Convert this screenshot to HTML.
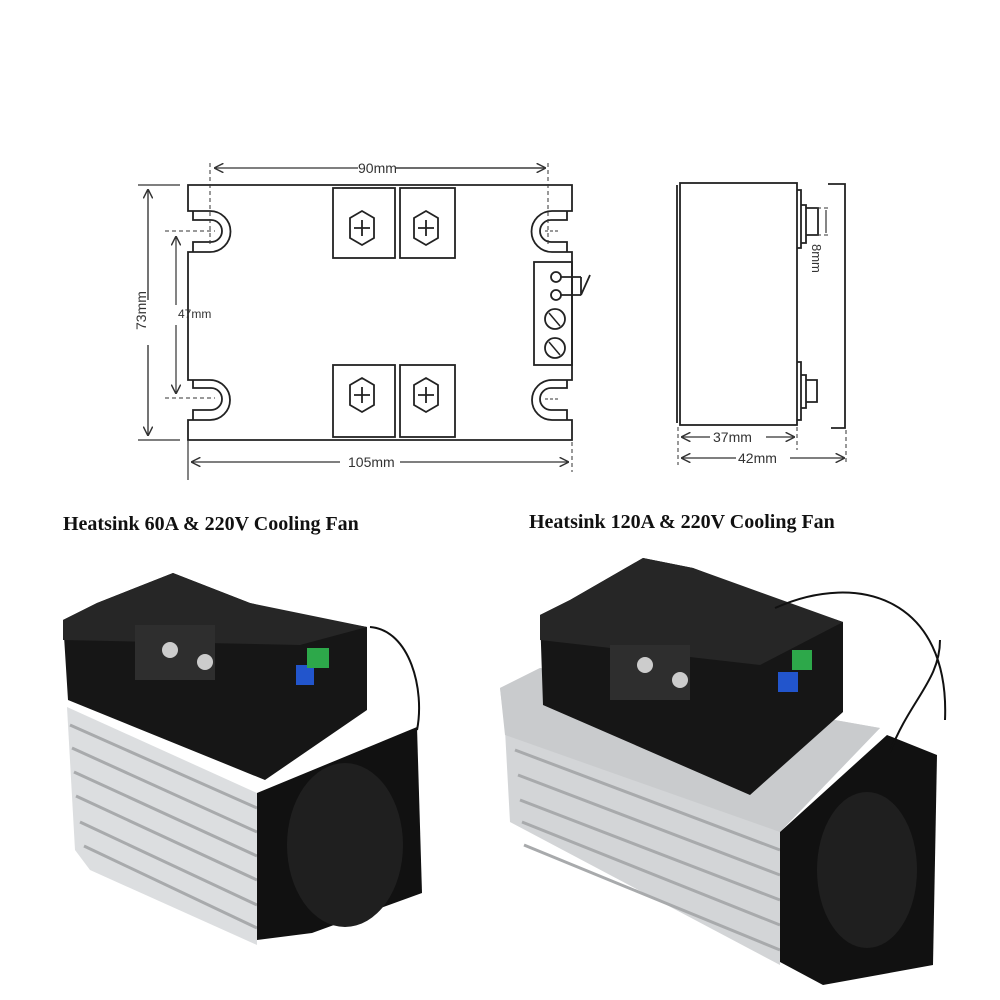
<!DOCTYPE html>
<html><head><meta charset="utf-8"><style>
html,body{margin:0;padding:0;background:#fff;width:1000px;height:1000px;overflow:hidden}
</style></head><body>
<svg width="1000" height="1000" viewBox="0 0 1000 1000" xmlns="http://www.w3.org/2000/svg" font-family="Liberation Sans, sans-serif">
<defs>
<marker id="a" viewBox="0 0 10 10" refX="9" refY="5" markerWidth="8" markerHeight="8" orient="auto-start-reverse"><path d="M0,0 L10,5 L0,10" fill="none" stroke="#333" stroke-width="1.5"/></marker>
</defs>
<g stroke="#222" stroke-width="1.8" fill="none">
<!-- main outline with slots -->
<path d="M188,185 H572 V211 H552 A20.5,20.5 0 0 0 552,252 H572 V380 H552 A20,20 0 0 0 552,420 H572 V440 H188 V420 H210 A20,20 0 0 0 210,380 H188 V252 H210 A20.5,20.5 0 0 0 210,211 H188 Z"/>
<path d="M193,211 V220 H211 A11,11 0 0 1 211,242 H193 V252"/>
<path d="M193,380 V388 H211 A11,11 0 0 1 211,410 H193 V420"/>
<path d="M567,211 V220 H551 A11,11 0 0 0 551,242 H567 V252"/>
<path d="M567,380 V388 H551 A11,11 0 0 0 551,410 H567 V420"/>
<!-- terminals -->
<rect x="333" y="188" width="62" height="70"/><rect x="400" y="188" width="55" height="70"/>
<rect x="333" y="365" width="62" height="72"/><rect x="400" y="365" width="55" height="72"/>
<polygon points="350,218 362,211 374,218 374,238 362,245 350,238"/>
<polygon points="414,218 426,211 438,218 438,238 426,245 414,238"/>
<polygon points="350,385 362,378 374,385 374,405 362,412 350,405"/>
<polygon points="414,385 426,378 438,385 438,405 426,412 414,405"/>
<path d="M362,220 V236 M354,228 H370 M426,220 V236 M418,228 H434 M362,387 V403 M354,395 H370 M426,387 V403 M418,395 H434"/>
<!-- module -->
<rect x="534" y="262" width="38" height="103"/>
<circle cx="556" cy="277" r="5"/><circle cx="556" cy="295" r="5"/>
<circle cx="555" cy="319" r="10"/><circle cx="555" cy="348" r="10"/>
<path d="M549,313 L560,326 M549,342 L560,355" stroke-width="1.5"/>
<path d="M561,277 H581 M561,295 H581 M581,277 V295 L590,275"/>
<!-- side view -->
<rect x="680" y="183" width="117" height="242"/>
<path d="M677,185 V423"/>
<path d="M797,190 H801 V248 H797 M801,205 H806 V243 H801 M806,208 H818 V235 H806"/>
<path d="M797,362 H801 V420 H797 M801,375 H806 V408 H801 M806,380 H817 V402 H806"/>
<path d="M828,184 H845 V428 H831"/>
</g>
<g stroke="#333" stroke-width="1" stroke-dasharray="4,3" fill="none">
<path d="M210,163 V245 M548,163 V245 M165,231 H215 M165,398 H215 M188,442 V472 M572,442 V472 M678,427 V465 M797,427 V450 M846,430 V465 M817,208 H830 M817,235 H830"/>
<path d="M545,231 H560 M545,399 H560" stroke-dasharray="3,2"/>
</g>
<g stroke="#333" stroke-width="1.2" fill="none">
<path d="M138,185 H180 M138,440 H180 M188,440 V480"/>
<path d="M215,168 H358 M396,168 H545" marker-start="url(#a)"/>
<path d="M545,168 H396" marker-start="url(#a)"/>
<path d="M148,190 V300 M148,345 V435" />
<path d="M148,300 V190" marker-end="url(#a)"/><path d="M148,345 V435" marker-end="url(#a)"/>
<path d="M176,305 V237" marker-end="url(#a)"/><path d="M176,325 V393" marker-end="url(#a)"/>
<path d="M340,462 H192" marker-end="url(#a)"/><path d="M400,462 H568" marker-end="url(#a)"/>
<path d="M710,437 H682" marker-end="url(#a)"/><path d="M766,437 H794" marker-end="url(#a)"/>
<path d="M736,458 H682" marker-end="url(#a)"/><path d="M790,458 H844" marker-end="url(#a)"/>
<path d="M826,210 V233"/>
</g>
<g fill="#333" font-size="14">
<text x="358" y="173">90mm</text>
<text x="348" y="467">105mm</text>
<text x="713" y="442">37mm</text>
<text x="738" y="463">42mm</text>
<text transform="translate(146,330) rotate(-90)">73mm</text>
<text x="178" y="318" font-size="12">47mm</text>
<text transform="translate(812,244) rotate(90)" font-size="13">8mm</text>
</g>
<g font-family="Liberation Serif, serif" font-weight="bold" font-size="20" fill="#111">
<text x="63" y="530">Heatsink 60A &amp; 220V Cooling Fan</text>
<text x="529" y="528">Heatsink 120A &amp; 220V Cooling Fan</text>
</g>
<!-- left photo -->
<polygon points="67,707 257,793 257,945 90,870 75,850" fill="#dcdee0"/>
<g stroke="#a8aaac" stroke-width="3">
<path d="M70,725 L257,808 M72,748 L257,832 M74,772 L257,856 M76,796 L257,880 M80,822 L257,905 M84,846 L257,928"/>
</g>
<polygon points="63,620 97,603 173,573 250,603 300,615 367,627 367,710 265,780 68,700" fill="#161616"/>
<polygon points="63,620 97,603 173,573 250,603 367,627 300,645 63,640" fill="#262626"/>
<rect x="135" y="625" width="80" height="55" fill="#2e2e2e"/>
<circle cx="170" cy="650" r="8" fill="#ccc"/><circle cx="205" cy="662" r="8" fill="#ccc"/>
<rect x="296" y="665" width="18" height="20" fill="#2255cc"/>
<rect x="307" y="648" width="22" height="20" fill="#2da84a"/>
<polygon points="257,793 417,727 422,893 312,933 257,940" fill="#111"/>
<ellipse cx="345" cy="845" rx="58" ry="82" fill="#1f1f1f"/>
<path d="M370,627 C410,630 425,690 417,730" stroke="#111" stroke-width="2" fill="none"/>
<!-- right photo -->
<polygon points="500,688 540,668 880,728 780,832 780,965 510,822 505,730" fill="#d3d5d7"/>
<polygon points="500,688 540,668 880,728 780,832 505,735" fill="#c9cbcd"/>
<g stroke="#a8aaac" stroke-width="3">
<path d="M515,750 L780,850 M518,775 L780,875 M520,800 L780,900 M522,822 L780,925 M524,845 L780,950"/>
</g>
<polygon points="540,615 570,600 643,558 693,568 763,595 843,622 843,712 750,795 543,705" fill="#161616"/>
<polygon points="540,615 570,600 643,558 693,568 843,622 760,665 540,640" fill="#262626"/>
<rect x="610" y="645" width="80" height="55" fill="#2e2e2e"/>
<circle cx="645" cy="665" r="8" fill="#ccc"/><circle cx="680" cy="680" r="8" fill="#ccc"/>
<rect x="778" y="672" width="20" height="20" fill="#2255cc"/>
<rect x="792" y="650" width="20" height="20" fill="#2da84a"/>
<polygon points="780,832 887,735 937,755 933,965 823,985 780,962" fill="#111"/>
<ellipse cx="867" cy="870" rx="50" ry="78" fill="#1f1f1f"/>
<path d="M775,608 C860,570 950,600 945,720 M890,752 C910,700 940,680 940,640" stroke="#111" stroke-width="2" fill="none"/>
</svg>
</body></html>
